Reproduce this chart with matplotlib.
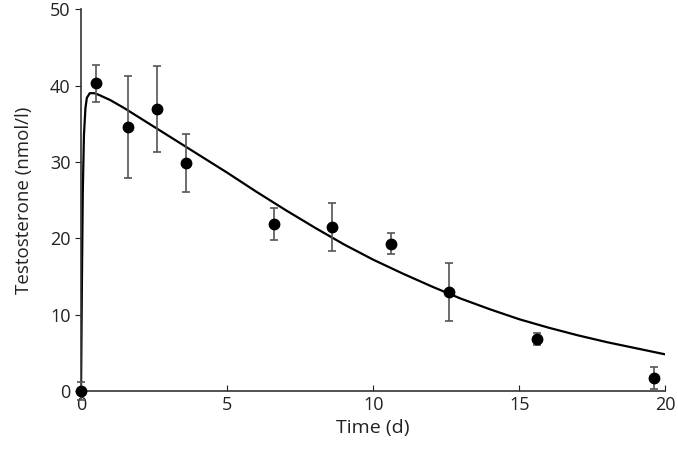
import matplotlib.pyplot as plt

# measured testosterone (mean +/- error)
t_obs = [0.0, 0.5, 1.6, 2.6, 3.6, 6.6, 8.6, 10.6, 12.6, 15.6, 19.6]
y_obs = [0.0, 40.3, 34.6, 36.9, 29.8, 21.9, 21.5, 19.3, 13.0, 6.8, 1.7]
y_err = [1.2, 2.4, 6.7, 5.6, 3.8, 2.1, 3.1, 1.4, 3.8, 0.8, 1.4]

# fitted model curve
t_fit = [0.0, 0.03, 0.06, 0.1, 0.15, 0.2, 0.3, 0.45, 0.6, 1.0, 1.5, 2.0, 3.0, 4.0,
         5.0, 6.0, 7.0, 8.0, 9.0, 10.0, 11.0, 12.0, 13.0, 14.0, 15.0, 16.0,
         17.0, 18.0, 19.0, 20.0]
y_fit = [0.0, 14.0, 26.0, 33.5, 37.0, 38.4, 39.0, 39.0, 38.8, 38.1, 37.0, 35.8,
         33.4, 31.0, 28.6, 26.1, 23.7, 21.4, 19.2, 17.2, 15.4, 13.7, 12.1, 10.7,
         9.4, 8.3, 7.3, 6.4, 5.6, 4.8]

plt.rcParams['font.family'] = ['Open Sans', 'DejaVu Sans']

fig = plt.figure(figsize=(6.78, 4.59), dpi=100)
ax = fig.add_axes([0.1195, 0.148, 0.862, 0.832])

ax.plot(t_fit, y_fit, color="black", lw=1.6, zorder=2)
ax.errorbar(t_obs, y_obs, yerr=y_err, fmt="o", color="black", ms=7.5,
            ecolor="#555555", elinewidth=1.2, capsize=3, capthick=1.2, zorder=3,
            clip_on=False)

ax.set_xlim(0, 20)
ax.set_ylim(0, 50)
ax.set_xticks([0, 5, 10, 15, 20])
ax.set_yticks([0, 10, 20, 30, 40, 50])
for s in ["top", "right"]:
    ax.spines[s].set_visible(False)
for s in ["left", "bottom"]:
    ax.spines[s].set_color("#333333")
    ax.spines[s].set_linewidth(1.2)
ax.tick_params(axis="x", direction="in", length=4, labelsize=13, colors="#222222")
ax.tick_params(axis="y", direction="out", length=4, labelsize=13, colors="#222222")
ax.set_xlabel("Time (d)", fontsize=14, color="#222222", labelpad=4)
ax.set_ylabel("Testosterone (nmol/l)", fontsize=13.5, color="#222222", labelpad=12)

fig.savefig("out.png", dpi=100)
